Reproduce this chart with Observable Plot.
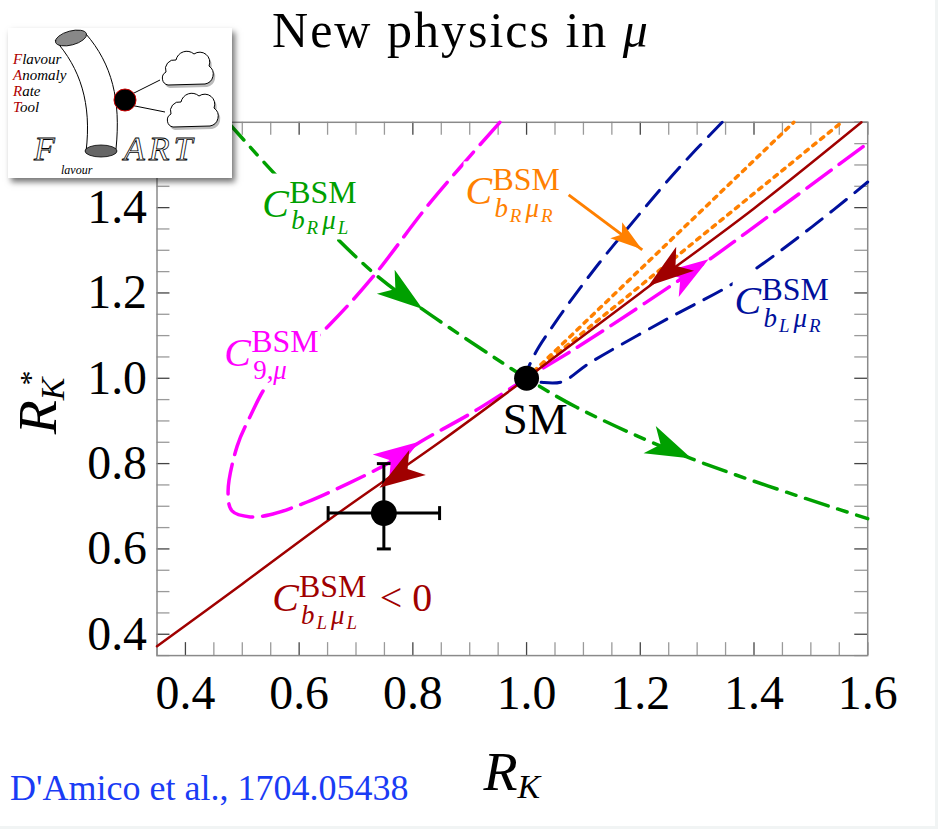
<!DOCTYPE html>
<html><head><meta charset="utf-8">
<script src="https://cdn.jsdelivr.net/npm/d3@7"></script>
<script src="https://cdn.jsdelivr.net/npm/@observablehq/plot@0.6"></script>
<style>
html,body{margin:0;padding:0;background:#f1f4f4;}
#page{position:relative;width:935px;height:826px;background:#fff;overflow:hidden;font-family:'Liberation Serif',serif;}
#title{position:absolute;left:0;top:5px;width:922px;text-align:center;font-size:50px;line-height:1;letter-spacing:2px;color:#000;}
#chart{position:absolute;left:0;top:60px;}
#cite{position:absolute;left:10px;top:770px;font-size:36px;line-height:1;color:#1a3cf5;white-space:nowrap;}
#logo{position:absolute;left:8px;top:28px;width:224px;height:150px;background:#fff;box-shadow:3px 4px 6px rgba(0,0,0,0.55);z-index:5;}
</style></head>
<body>
<div id="page">
  <div id="title">New physics in <span style="font-style:italic">μ</span></div>
  <div id="chart"></div>
  <div id="cite">D'Amico et al., 1704.05438</div>
  <div id="logo">
    <svg width="224" height="150" viewBox="0 0 224 150" font-family="'Liberation Serif',serif">
      <path d="M47,12 C72,40 84,75 78,124" fill="none" stroke="#000" stroke-width="1"/>
      <path d="M78,6 C104,36 113,72 108,121" fill="none" stroke="#000" stroke-width="1"/>
      <ellipse cx="63" cy="10" rx="16" ry="7" transform="rotate(-15 63 10)" fill="#888" stroke="#000" stroke-width="0.8"/>
      <ellipse cx="93" cy="123" rx="16" ry="6" fill="#666" stroke="#000" stroke-width="0.8"/>
      <line x1="122" y1="67" x2="152" y2="52" stroke="#000" stroke-width="1"/>
      <line x1="122" y1="77" x2="157" y2="84" stroke="#000" stroke-width="1"/>
      <circle cx="117" cy="72" r="11" fill="#000" stroke="#c00" stroke-width="1"/>
      <g transform="translate(2,3)" fill="#bbb" stroke="none">
        <path d="M160,57 A7,7 0 0 1 158,44 A9,9 0 0 1 168,32 A11,11 0 0 1 186,26 A10,10 0 0 1 201,38 A10,10 0 0 1 197,56 Z"/>
        <path d="M165,99 A7,7 0 0 1 163,86 A9,9 0 0 1 173,74 A11,11 0 0 1 191,68 A10,10 0 0 1 206,80 A10,10 0 0 1 202,98 Z"/>
      </g>
      <g fill="#fff" stroke="#000" stroke-width="1">
        <path d="M160,57 A7,7 0 0 1 158,44 A9,9 0 0 1 168,32 A11,11 0 0 1 186,26 A10,10 0 0 1 201,38 A10,10 0 0 1 197,56 Z"/>
        <path d="M165,99 A7,7 0 0 1 163,86 A9,9 0 0 1 173,74 A11,11 0 0 1 191,68 A10,10 0 0 1 206,80 A10,10 0 0 1 202,98 Z"/>
      </g>
      <g font-style="italic" font-size="15" fill="#000">
        <text x="5" y="36"><tspan fill="#b00000">F</tspan>lavour</text>
        <text x="5" y="52"><tspan fill="#b00000">A</tspan>nomaly</text>
        <text x="5" y="68"><tspan fill="#b00000">R</tspan>ate</text>
        <text x="5" y="84"><tspan fill="#b00000">T</tspan>ool</text>
      </g>
      <g font-style="italic" font-size="34" fill="#fff" stroke="#000" stroke-width="0.8">
        <text x="26" y="132">F</text>
        <text x="116" y="132" letter-spacing="4">ART</text>
      </g>
      <text x="53" y="146" font-style="italic" font-size="12" fill="#000">lavour</text>
    </svg>
  </div>
</div>
<script>
// ---------- data ----------
const xTickLabels = [0.4, 0.6, 0.8, 1.0, 1.2, 1.4, 1.6];
const yTickLabels = [0.4, 0.6, 0.8, 1.0, 1.2, 1.4];
const xMinorTicks = [0.35,0.4,0.45,0.5,0.55,0.6,0.65,0.7,0.75,0.8,0.85,0.9,0.95,1.0,1.05,1.1,1.15,1.2,1.25,1.3,1.35,1.4,1.45,1.5,1.55,1.6];
const yMinorTicks = [0.35,0.4,0.45,0.5,0.55,0.6,0.65,0.7,0.75,0.8,0.85,0.9,0.95,1.0,1.05,1.1,1.15,1.2,1.25,1.3,1.35,1.4,1.45,1.5,1.55,1.6];

// C_bL muL (solid dark red)
const curveBLmuL = [[0.35,0.372],[0.5,0.518],[0.672,0.687],[0.85,0.853],[1.0,1.0],[1.2,1.2],[1.4,1.398],[1.589,1.6]];
// C_bR muR (two orange dotted branches)
const curveBRmuR_up = [[1.0,1.0],[1.47,1.6]];
const curveBRmuR_lo = [[1.0,1.0],[1.554,1.6]];
// C_bL muR (blue dashed)
const curveBLmuR = [[1.344,1.6],[1.268,1.493],[1.193,1.376],[1.123,1.262],[1.05,1.13],[1.012,1.05],[1.0,1.0],[1.03,0.99],[1.063,0.992],[1.11,1.035],[1.246,1.138],[1.374,1.231],[1.502,1.355],[1.6,1.46]];
// C_bR muL (green dash-dot)
const curveBRmuL = [[0.475,1.6],[0.567,1.465],[0.73,1.248],[0.818,1.161],[0.975,1.021],[1.0,1.0],[1.088,0.932],[1.291,0.811],[1.6,0.671]];
// C_9 mu (magenta long dash)
const curveC9mu = [[0.953,1.6],[0.83,1.411],[0.73,1.238],[0.654,1.126],[0.59,1.045],[0.544,0.985],[0.514,0.911],[0.491,0.841],[0.475,0.734],[0.482,0.689],[0.514,0.675],[0.554,0.682],[0.614,0.71],[0.684,0.752],[0.754,0.799],[0.812,0.85],[0.905,0.92],[1.0,1.0],[1.105,1.086],[1.321,1.278],[1.386,1.341],[1.6,1.551]];

// direction arrows (from -> tip)
const arrows = [
  {s:"bRmuL", x1:0.73, y1:1.248, x2:0.818, y2:1.161},
  {s:"bRmuL", x1:1.088, y1:0.932, x2:1.291, y2:0.811},
  {s:"c9mu", x1:0.754, y1:0.799, x2:0.812, y2:0.85},
  {s:"c9mu", x1:1.105, y1:1.086, x2:1.321, y2:1.278},
  {s:"bLmuL", x1:0.83, y1:0.82, x2:0.742, y2:0.742},
  {s:"bLmuL", x1:1.4, y1:1.398, x2:1.215, y2:1.215}
];
// orange annotation pointer
const pointer = [{s:"bRmuR", x1:1.074, y1:1.43, x2:1.2035, y2:1.301}];

// SM point and measurement
const smPoint = [{x:1.0, y:1.0}];
const measurement = [{x:0.749, y:0.684, xlo:0.651, xhi:0.847, ylo:0.600, yhi:0.800}];

// labels: anchor = left baseline of "C"
const labels = [
  {s:"bRmuL", x:0.536, y:1.378, sub:[["b","i"],["R","ss"],["μ","i"],["L","ss"]], tail:""},
  {s:"bRmuR", x:0.8935, y:1.4065, sub:[["b","i"],["R","ss"],["μ","i"],["R","ss"]], tail:""},
  {s:"bLmuR", x:1.3668, y:1.1495, sub:[["b","i"],["L","ss"],["μ","i"],["R","ss"]], tail:""},
  {s:"c9mu", x:0.4692, y:1.028, sub:[["9,","u"],["μ","i"]], tail:""},
  {s:"bLmuL", x:0.5534, y:0.4533, sub:[["b","i"],["L","ss"],["μ","i"],["L","ss"]], tail:"< 0"}
];
const smLabel = [{x:1.0162, y:0.869, text:"SM"}];

// ---------- styles ----------
const colors = {bLmuL:"#a00000", bRmuR:"#ff8000", bLmuR:"#00109c", bRmuL:"#00a000", c9mu:"#ff00ff"};
const serif = "'Liberation Serif', serif";
const toObj = a => a.map(([x,y]) => ({x, y}));

const capV = {draw(ctx){ ctx.moveTo(0,-7); ctx.lineTo(0,7); }};
const capH = {draw(ctx){ ctx.moveTo(-7,0); ctx.lineTo(7,0); }};

function headsMark(list, L, Wd, N) {
  return (index, scales) => {
    const X = scales.x, Y = scales.y;
    const g = d3.create("svg:g");
    for (const a of list) {
      const px2 = X(a.x2), py2 = Y(a.y2), px1 = X(a.x1), py1 = Y(a.y1);
      const ang = Math.atan2(py2 - py1, px2 - px1) * 180 / Math.PI;
      g.append("path")
        .attr("d", `M0,0L${-L},${-Wd}L${-L+N},0L${-L},${Wd}Z`)
        .attr("transform", `translate(${px2},${py2}) rotate(${ang})`)
        .attr("fill", colors[a.s]);
    }
    return g.node();
  };
}

function labelsMark(index, scales) {
  const X = scales.x, Y = scales.y;
  const root = d3.create("svg:g").attr("text-anchor", "start").attr("font-family", serif);
  for (const l of labels) {
    const px = X(l.x), py = Y(l.y), c = colors[l.s];
    const g = root.append("g").attr("class", "mlabel").attr("fill", c);
    const t = g.append("text").attr("x", px).attr("y", py).attr("text-anchor", "start");
    t.append("tspan").attr("font-size", 40).attr("font-style", "italic").text("C");
    t.append("tspan").attr("x", px + 27).attr("y", py - 14).attr("font-size", 32).text("BSM");
    let first = true, lvl = 0;
    for (const [txt, kind] of l.sub) {
      const sp = t.append("tspan").text(txt);
      if (first) { sp.attr("x", px + 29).attr("y", py + 13); first = false; }
      if (kind === "ss") { sp.attr("font-size", 19).attr("font-style", "italic").attr("dy", 5 - lvl).attr("dx", 2); lvl = 5; }
      else {
        sp.attr("font-size", 27).attr("font-style", kind === "i" ? "italic" : null);
        if (lvl) sp.attr("dy", -lvl).attr("dx", 4);
        lvl = 0;
      }
    }
    if (l.tail) t.append("tspan").attr("x", px + 108).attr("y", py).attr("font-size", 40).text(l.tail);
  }
  for (const s of smLabel) {
    root.append("text").attr("x", X(s.x)).attr("y", Y(s.y)).attr("text-anchor", "middle")
      .attr("font-size", 45).attr("fill", "#000").text(s.text);
  }
  return root.node();
}

function axisLabelsMark(index, scales, values, dims) {
  const g = d3.create("svg:g").attr("font-family", serif).attr("fill", "#000");
  const cx = (dims.marginLeft + dims.width - dims.marginRight) / 2;
  const bx = g.append("text").attr("x", cx).attr("y", dims.height - dims.marginBottom + 135).attr("text-anchor", "middle");
  bx.append("tspan").attr("font-size", 56).attr("font-style", "italic").text("R");
  bx.append("tspan").attr("font-size", 34).attr("font-style", "italic").attr("dy", 8).text("K");
  const cy = (dims.marginTop + dims.height - dims.marginBottom) / 2 + 14;
  const ly = g.append("text").attr("transform", `translate(${dims.marginLeft - 101},${cy}) rotate(-90)`).attr("text-anchor", "middle");
  ly.append("tspan").attr("font-size", 56).attr("font-style", "italic").text("R");
  ly.append("tspan").attr("font-size", 34).attr("font-style", "italic").attr("dy", 8).text("K");
  ly.append("tspan").attr("font-size", 30).attr("dy", -24).attr("dx", -8).text("*");
  return g.node();
}

const innerW = 938 - 157 - 68, innerH = 769 - 62 - 172;
const tickLen = 13;
const majorColor = "#444", minorColor = "#9a9a9a";
const isMajor = v => xTickLabels.some(t => Math.abs(t - v) < 1e-9);

const plot = Plot.plot({
  width: 938, height: 769,
  marginLeft: 157, marginRight: 68, marginTop: 62, marginBottom: 172,
  style: {background: "transparent", fontFamily: serif, fontSize: "48px", color: "#000", overflow: "visible"},
  x: {domain: [0.35, 1.6], ticks: xTickLabels, tickFormat: d3.format(".1f"), tickSize: 0, tickPadding: 19, label: null},
  y: {domain: [0.35, 1.6], ticks: yTickLabels, tickFormat: d3.format(".1f"), tickSize: 0, tickPadding: 10, label: null},
  marks: [
    // inward ticks on four sides
    Plot.tickX(xMinorTicks, {x: d => d, insetTop: innerH - tickLen, stroke: d => isMajor(d) ? majorColor : minorColor, strokeWidth: 1.3}),
    Plot.tickX(xMinorTicks, {x: d => d, insetBottom: innerH - tickLen, stroke: d => isMajor(d) ? majorColor : minorColor, strokeWidth: 1.3}),
    Plot.tickY(yMinorTicks, {y: d => d, insetRight: innerW - tickLen, stroke: d => isMajor(d) ? majorColor : minorColor, strokeWidth: 1.3}),
    Plot.tickY(yMinorTicks, {y: d => d, insetLeft: innerW - tickLen, stroke: d => isMajor(d) ? majorColor : minorColor, strokeWidth: 1.3}),
    Plot.frame({stroke: "#8a8a8a", strokeWidth: 1.5}),
    // curves
    Plot.line(toObj(curveBRmuL), {x: "x", y: "y", stroke: colors.bRmuL, strokeWidth: 3.5, strokeDasharray: "24,10,10,10", curve: "catmull-rom"}),
    Plot.line(toObj(curveBLmuR), {x: "x", y: "y", stroke: colors.bLmuR, strokeWidth: 3, strokeDasharray: "20,11", curve: "catmull-rom"}),
    Plot.line(toObj(curveBRmuR_up), {x: "x", y: "y", stroke: colors.bRmuR, strokeWidth: 3.5, strokeDasharray: "4,6"}),
    Plot.line(toObj(curveBRmuR_lo), {x: "x", y: "y", stroke: colors.bRmuR, strokeWidth: 3.5, strokeDasharray: "4,6"}),
    Plot.line(toObj(curveC9mu), {x: "x", y: "y", stroke: colors.c9mu, strokeWidth: 3.5, strokeDasharray: "30,10", curve: "catmull-rom"}),
    Plot.line(toObj(curveBLmuL), {x: "x", y: "y", stroke: colors.bLmuL, strokeWidth: 2.5, curve: "catmull-rom"}),
    // measurement error bars
    Plot.ruleY(measurement, {y: "y", x1: "xlo", x2: "xhi", stroke: "#000", strokeWidth: 3}),
    Plot.ruleX(measurement, {x: "x", y1: "ylo", y2: "yhi", stroke: "#000", strokeWidth: 3}),
    Plot.dot(measurement, {x: "xlo", y: "y", symbol: capV, stroke: "#000", strokeWidth: 3, fill: "none"}),
    Plot.dot(measurement, {x: "xhi", y: "y", symbol: capV, stroke: "#000", strokeWidth: 3, fill: "none"}),
    Plot.dot(measurement, {x: "x", y: "ylo", symbol: capH, stroke: "#000", strokeWidth: 3, fill: "none"}),
    Plot.dot(measurement, {x: "x", y: "yhi", symbol: capH, stroke: "#000", strokeWidth: 3, fill: "none"}),
    // arrows
    headsMark(arrows, 46, 15, 12),
    Plot.link(pointer, {x1: "x1", y1: "y1", x2: "x2", y2: "y2", stroke: colors.bRmuR, strokeWidth: 3}),
    headsMark(pointer, 32, 10, 7),
    // points
    Plot.dot(measurement, {x: "x", y: "y", r: 13, fill: "#000", stroke: "none"}),
    Plot.dot(smPoint, {x: "x", y: "y", r: 12.5, fill: "#000", stroke: "none"}),
    labelsMark,
    axisLabelsMark
  ]
});
document.getElementById("chart").append(plot);
// white boxes behind the math labels (they hide the curves, as in the original)
plot.querySelectorAll("g.mlabel").forEach(g => {
  const b = g.getBBox();
  const r = document.createElementNS("http://www.w3.org/2000/svg", "rect");
  r.setAttribute("x", b.x - 2); r.setAttribute("y", b.y - 1);
  r.setAttribute("width", b.width + 4); r.setAttribute("height", b.height + 2);
  r.setAttribute("fill", "#fff");
  g.insertBefore(r, g.firstChild);
});
</script>
</body></html>
